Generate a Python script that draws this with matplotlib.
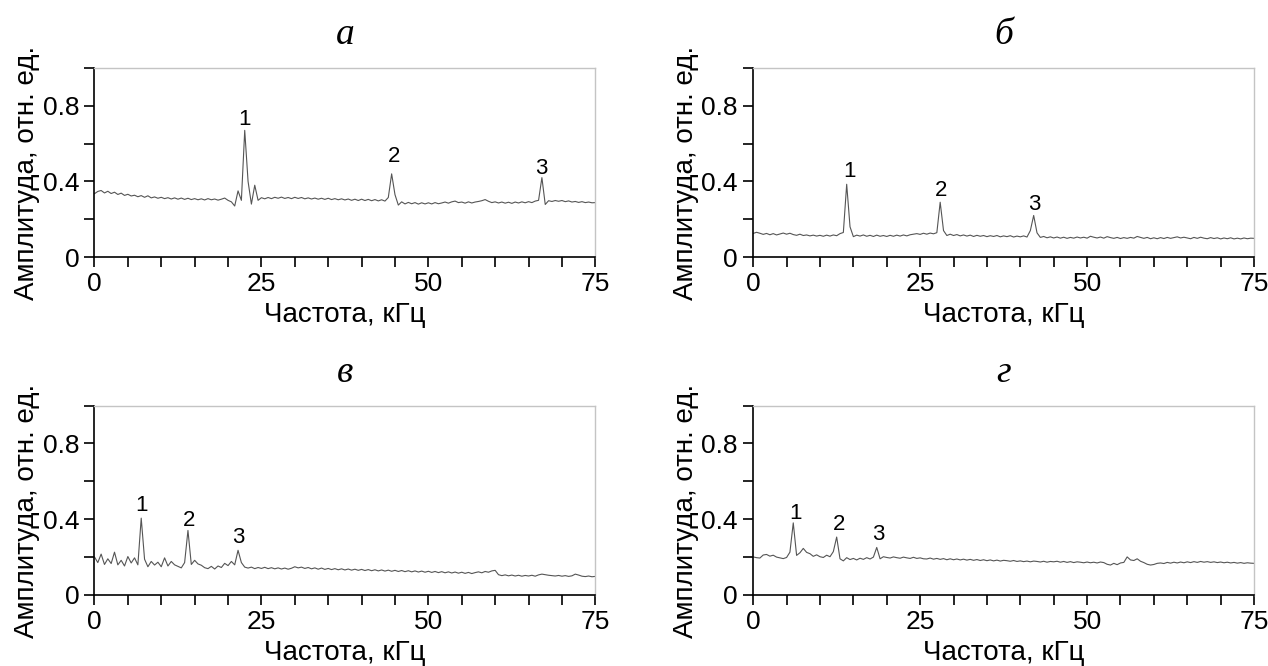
import matplotlib.pyplot as plt
import numpy as np

# frequency grid, kHz (step 0.5)
freq = np.arange(0, 75.01, 0.5)

amp_a = [0.335, 0.347, 0.352, 0.339, 0.348, 0.336, 0.343, 0.331, 0.338, 0.326,
         0.332, 0.323, 0.327, 0.319, 0.325, 0.316, 0.324, 0.313, 0.318, 0.311,
         0.316, 0.309, 0.314, 0.307, 0.313, 0.306, 0.312, 0.305, 0.311, 0.304,
         0.309, 0.303, 0.308, 0.302, 0.309, 0.303, 0.307, 0.301, 0.306, 0.312,
         0.300, 0.292, 0.270, 0.350, 0.300, 0.670, 0.400, 0.280, 0.380, 0.300,
         0.314, 0.308, 0.315, 0.309, 0.316, 0.311, 0.317, 0.310, 0.315, 0.309,
         0.316, 0.310, 0.315, 0.308, 0.313, 0.307, 0.312, 0.306, 0.311, 0.305,
         0.311, 0.304, 0.309, 0.303, 0.308, 0.302, 0.307, 0.300, 0.306, 0.299,
         0.306, 0.299, 0.305, 0.298, 0.304, 0.297, 0.303, 0.296, 0.315, 0.440,
         0.330, 0.275, 0.292, 0.281, 0.289, 0.282, 0.288, 0.280, 0.287, 0.281,
         0.287, 0.281, 0.288, 0.282, 0.286, 0.291, 0.285, 0.292, 0.296, 0.288,
         0.291, 0.285, 0.292, 0.286, 0.291, 0.294, 0.298, 0.304, 0.295, 0.288,
         0.292, 0.286, 0.291, 0.285, 0.290, 0.284, 0.291, 0.286, 0.292, 0.287,
         0.293, 0.288, 0.296, 0.300, 0.420, 0.278, 0.298, 0.294, 0.299, 0.295,
         0.299, 0.293, 0.297, 0.291, 0.294, 0.289, 0.293, 0.288, 0.291, 0.287,
         0.288]

amp_b = [0.125, 0.131, 0.126, 0.120, 0.125, 0.118, 0.124, 0.117, 0.122, 0.127,
         0.121, 0.126, 0.119, 0.115, 0.121, 0.114, 0.117, 0.112, 0.116, 0.111,
         0.115, 0.110, 0.116, 0.111, 0.117, 0.113, 0.124, 0.130, 0.385, 0.160,
         0.108, 0.116, 0.111, 0.117, 0.110, 0.115, 0.109, 0.116, 0.110, 0.114,
         0.109, 0.115, 0.110, 0.116, 0.111, 0.117, 0.112, 0.118, 0.121, 0.124,
         0.120, 0.126, 0.121, 0.127, 0.123, 0.129, 0.290, 0.140, 0.114, 0.121,
         0.114, 0.119, 0.112, 0.117, 0.111, 0.116, 0.109, 0.115, 0.110, 0.114,
         0.108, 0.113, 0.109, 0.114, 0.107, 0.112, 0.108, 0.113, 0.106, 0.111,
         0.107, 0.112, 0.106, 0.140, 0.220, 0.128, 0.104, 0.109, 0.102, 0.107,
         0.101, 0.106, 0.100, 0.105, 0.099, 0.104, 0.100, 0.106, 0.101, 0.105,
         0.100, 0.110, 0.105, 0.101, 0.106, 0.100, 0.108, 0.103, 0.099, 0.104,
         0.098, 0.103, 0.099, 0.104, 0.100, 0.109, 0.104, 0.099, 0.104, 0.097,
         0.102, 0.097, 0.103, 0.098, 0.104, 0.099, 0.103, 0.107, 0.101, 0.105,
         0.101, 0.097, 0.104, 0.099, 0.105, 0.100, 0.097, 0.103, 0.098, 0.102,
         0.096, 0.101, 0.097, 0.102, 0.096, 0.100, 0.096, 0.101, 0.097, 0.100,
         0.099]

amp_v = [0.200, 0.170, 0.215, 0.160, 0.190, 0.165, 0.225, 0.158, 0.182, 0.152,
         0.202, 0.168, 0.195, 0.158, 0.405, 0.188, 0.148, 0.176, 0.157, 0.172,
         0.148, 0.195, 0.152, 0.176, 0.158, 0.150, 0.142, 0.170, 0.340, 0.160,
         0.182, 0.163, 0.156, 0.143, 0.138, 0.150, 0.136, 0.152, 0.144, 0.166,
         0.154, 0.176, 0.158, 0.235, 0.170, 0.146, 0.141, 0.146, 0.138, 0.144,
         0.139, 0.145, 0.138, 0.143, 0.137, 0.142, 0.136, 0.141, 0.135, 0.140,
         0.148, 0.142, 0.146, 0.139, 0.144, 0.137, 0.142, 0.135, 0.141, 0.134,
         0.139, 0.133, 0.138, 0.132, 0.137, 0.131, 0.136, 0.130, 0.135, 0.129,
         0.134, 0.128, 0.133, 0.127, 0.132, 0.126, 0.131, 0.125, 0.130, 0.124,
         0.129, 0.123, 0.128, 0.122, 0.127, 0.121, 0.126, 0.120, 0.125, 0.119,
         0.124, 0.118, 0.123, 0.117, 0.122, 0.116, 0.121, 0.115, 0.120, 0.114,
         0.119, 0.113, 0.118, 0.112, 0.117, 0.121, 0.116, 0.123, 0.119, 0.126,
         0.129, 0.106, 0.101, 0.105, 0.100, 0.104, 0.099, 0.103, 0.098, 0.102,
         0.099, 0.103, 0.098, 0.105, 0.109, 0.106, 0.103, 0.101, 0.099, 0.102,
         0.098, 0.101, 0.097, 0.100, 0.109, 0.104, 0.098, 0.096, 0.099, 0.095,
         0.097]

amp_g = [0.200, 0.196, 0.194, 0.210, 0.213, 0.204, 0.209, 0.199, 0.195, 0.191,
         0.197, 0.225, 0.380, 0.208, 0.222, 0.245, 0.224, 0.217, 0.203, 0.211,
         0.201, 0.197, 0.209, 0.201, 0.228, 0.305, 0.190, 0.179, 0.196, 0.186,
         0.192, 0.184, 0.193, 0.187, 0.196, 0.189, 0.199, 0.250, 0.190, 0.201,
         0.197, 0.194, 0.200, 0.196, 0.193, 0.199, 0.195, 0.192, 0.198, 0.192,
         0.195, 0.190, 0.189, 0.194, 0.188, 0.192, 0.187, 0.191, 0.185, 0.190,
         0.185, 0.189, 0.184, 0.188, 0.183, 0.187, 0.182, 0.186, 0.181, 0.185,
         0.180, 0.184, 0.179, 0.183, 0.178, 0.182, 0.180, 0.177, 0.181, 0.176,
         0.179, 0.175, 0.178, 0.174, 0.178, 0.176, 0.173, 0.177, 0.172, 0.176,
         0.174, 0.177, 0.172, 0.176, 0.171, 0.175, 0.170, 0.174, 0.172, 0.169,
         0.173, 0.169, 0.172, 0.168, 0.173, 0.170, 0.161, 0.157, 0.166, 0.159,
         0.168, 0.171, 0.200, 0.184, 0.181, 0.190, 0.177, 0.170, 0.161, 0.157,
         0.160, 0.166, 0.168, 0.165, 0.171, 0.167, 0.172, 0.168, 0.173, 0.169,
         0.174, 0.170, 0.175, 0.171, 0.176, 0.172, 0.175, 0.171, 0.174, 0.170,
         0.173, 0.169, 0.172, 0.168, 0.171, 0.167, 0.170, 0.166, 0.169, 0.167,
         0.166]

panel_titles = ["а", "б", "в", "г"]
spectra = [amp_a, amp_b, amp_v, amp_g]

# positions of peak labels "1", "2", "3" (kHz, amplitude)
label_x = [[22.5, 44.8, 66.9], [14.4, 28.2, 42.1], [7.1, 14.1, 21.5], [6.4, 12.8, 18.8]]
label_y = [[0.73, 0.53, 0.47], [0.45, 0.35, 0.28], [0.47, 0.39, 0.30], [0.43, 0.37, 0.32]]
peak_names = ["1", "2", "3"]

plt.rcParams['font.family'] = ['Liberation Sans', 'DejaVu Sans']

fig = plt.figure(figsize=(12.68, 6.66), dpi=100)
lefts = [0.0745, 0.594, 0.0745, 0.594]
bottoms = [0.614, 0.614, 0.107, 0.107]

for i in range(4):
    ax = fig.add_axes([lefts[i], bottoms[i], 0.395, 0.284])
    ax.plot(freq, spectra[i], color="#555555", lw=0.8)
    for k in range(3):
        ax.text(label_x[i][k], label_y[i][k], peak_names[k], fontsize=16,
                ha="center", va="center")

    ax.set_xlim(0, 75)
    ax.set_ylim(0, 1.0)
    ax.set_xticks([0, 25, 50, 75])
    ax.set_xticks(np.arange(0, 76, 5), minor=True)
    ax.set_yticks([0, 0.4, 0.8])
    ax.set_yticklabels(["0", "0.4", "0.8"])
    ax.set_yticks([0.2, 0.6, 1.0], minor=True)
    ax.tick_params(which="both", direction="out", length=7, width=1.2,
                   labelsize=19, pad=4)

    for s in ["top", "right"]:
        ax.spines[s].set_color("#c4c4c4")
        ax.spines[s].set_linewidth(1.0)
    for s in ["left", "bottom"]:
        ax.spines[s].set_linewidth(1.2)

    ax.set_xlabel("Частота, кГц", fontsize=20, labelpad=4)
    ax.set_ylabel("Амплитуда, отн. ед.", fontsize=20)
    ax.yaxis.set_label_coords(-0.108, 0.445)
    ax.set_title(panel_titles[i], fontsize=27, family="Liberation Serif",
                 style="italic", pad=17)

plt.savefig("out.png", dpi=100)
